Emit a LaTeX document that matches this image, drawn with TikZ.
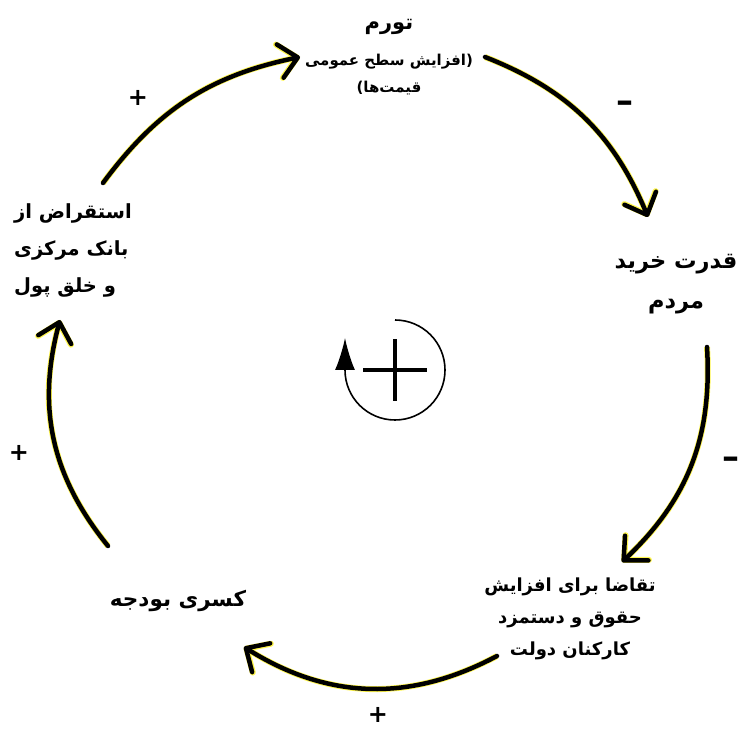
\documentclass[tikz,border=0pt]{standalone}
\usepackage{fontspec}
\usetikzlibrary{arrows.meta}
\TeXXeTstate=1
\newfontfamily\fa[Script=Arabic]{DejaVu Sans}
\newcommand{\rl}[1]{\beginR #1\endR}
\begin{document}
\begin{tikzpicture}[x=1pt,y=1pt,
  lbl/.style={font=\fa\bfseries, inner sep=0pt, align=center},
  sign/.style={font=\fa\bfseries\fontsize{24}{24}\selectfont, inner sep=0pt},
  minus/.style={font=\fa\bfseries\fontsize{34}{34}\selectfont, inner sep=0pt},
  conn/.style={line width=4.5pt, line cap=round,
    -{Straight Barb[length=18pt,width=34pt,round]},
    preaction={draw=yellow!70, line width=6pt}}
]
\useasboundingbox (0,0) rectangle (739,729);

% nodes
\node[lbl, font=\fa\bfseries\fontsize{15}{27}\selectfont] (infl) at (389,672)
  {{\fontsize{21}{24}\selectfont\rl{تورم}}\\[9pt]
   \rl{(افزایش سطح عمومی}\\
   \rl{قیمت‌ها)}};
\node[lbl, font=\fa\bfseries\fontsize{22.5}{40}\selectfont] (power) at (676,445) {\rl{قدرت خرید}\\\rl{مردم}};
\node[lbl, align=left, font=\fa\bfseries\fontsize{19.5}{37}\selectfont] (borrow) at (73,479) {\rl{استقراض از}\\\rl{بانک مرکزی}\\\rl{و خلق پول}};
\node[lbl, font=\fa\bfseries\fontsize{18}{32}\selectfont] (wage) at (570,110) {\rl{تقاضا برای افزایش}\\\rl{حقوق و دستمزد}\\\rl{کارکنان دولت}};
\node[lbl, font=\fa\bfseries\fontsize{21.5}{24}\selectfont] (deficit) at (178,128) {\rl{کسری بودجه}};

% arrow end points
\coordinate (a1s) at (103,546); \coordinate (a1e) at (300,672);
\coordinate (a2s) at (485,672); \coordinate (a2e) at (648,512);
\coordinate (a3s) at (707,382); \coordinate (a3e) at (622,167);
\coordinate (a4s) at (497,73);  \coordinate (a4e) at (244,82);
\coordinate (a5s) at (108,183); \coordinate (a5e) at (60,409);

\draw[conn] (a1s) to[bend left=21] (a1e);
\draw[conn] (a2s) to[bend left=23] (a2e);
\draw[conn] (a3s) to[bend left=25] (a3e);
\draw[conn] (a4s) to[bend left=30] (a4e);
\draw[conn] (a5s) to[bend left=27] (a5e);

% signs
\node[sign] (s1) at (138,631) {+};
\node[minus] (s2) at (625,622) {–};
\node[minus] (s3) at (731,266) {–};
\node[sign] (s4) at (378,14) {+};
\node[sign] (s5) at (19,276) {+};

% loop symbol
\coordinate (loop) at (395,359);
\draw[line width=1.6pt] (loop) ++(0,50) arc[start angle=90, end angle=-180, radius=50]
  -- ++(0,32) [-{Latex[length=32pt,width=20pt]}];
\draw[line width=3.5pt] (loop) ++(-32,0) -- ++(64,0);
\draw[line width=3.5pt] (loop) ++(0,-31) -- ++(0,62);
\end{tikzpicture}
\end{document}
